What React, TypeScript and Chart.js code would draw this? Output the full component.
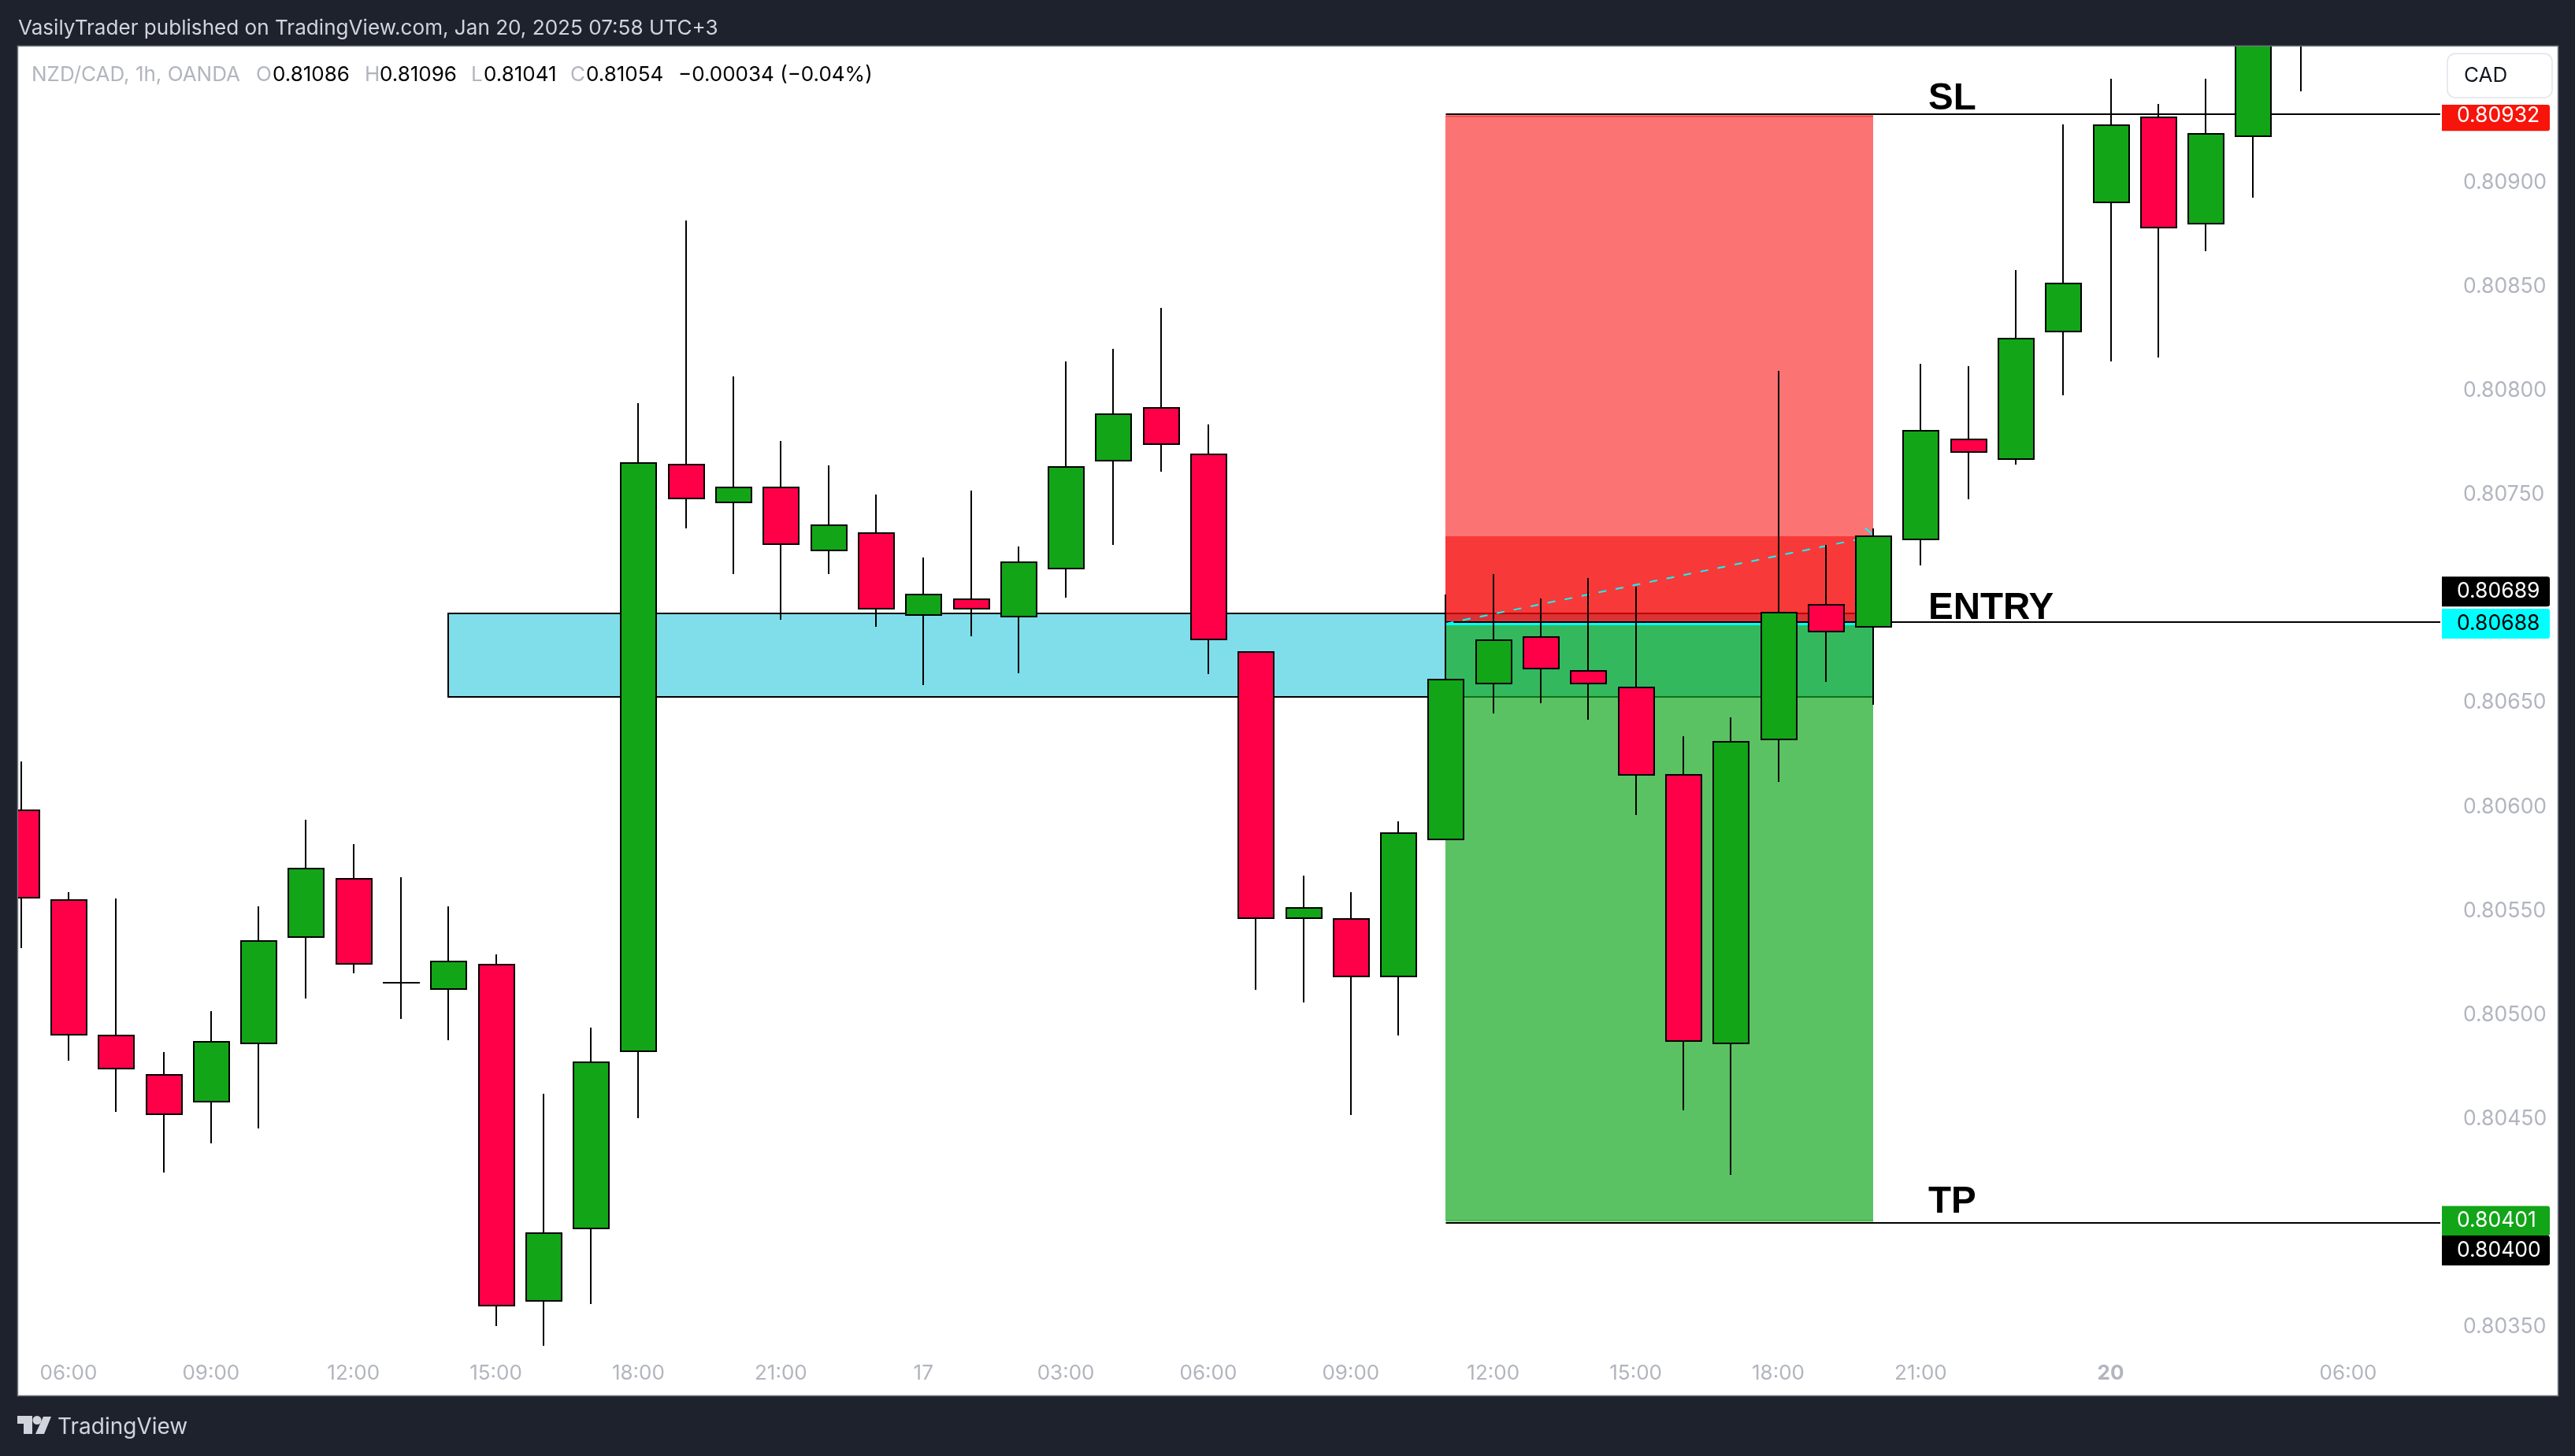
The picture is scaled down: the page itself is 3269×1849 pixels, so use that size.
import React, { useEffect, useRef } from "react";
import Chart from "chart.js/auto";

// NZD/CAD 1h candles, left to right
const opens = [
  0.805986, 0.805556, 0.804906, 0.804717, 0.80458, 0.804859, 0.80537, 0.805659, 0.80516, 0.805121,
  0.805246, 0.803622, 0.803969, 0.804822, 0.807648, 0.807459, 0.807538, 0.807228, 0.807319, 0.806917,
  0.807001, 0.80691, 0.807141, 0.807659, 0.807919, 0.807697, 0.806747, 0.805459, 0.805465, 0.80518,
  0.805839, 0.806588, 0.806818, 0.806658, 0.806579, 0.806157, 0.804859, 0.80632, 0.806975, 0.806861,
  0.807281, 0.807769, 0.807667, 0.80828, 0.8089, 0.809318, 0.808798, 0.809218, 0.80985,
];
const highs = [
  0.806217, 0.805589, 0.805559, 0.804822, 0.805019, 0.805521, 0.805937, 0.805821, 0.805661, 0.805521,
  0.80529, 0.80462, 0.804938, 0.807939, 0.808817, 0.808068, 0.807758, 0.80764, 0.8075, 0.807197,
  0.807519, 0.80725, 0.80814, 0.8082, 0.808397, 0.807837, 0.806747, 0.805669, 0.805589, 0.80593,
  0.80702, 0.807118, 0.807001, 0.807099, 0.807057, 0.806338, 0.806429, 0.808094, 0.807259, 0.807339,
  0.808128, 0.808117, 0.808579, 0.809279, 0.809498, 0.809377, 0.809498, 0.81, 0.8102,
];
const lows = [
  0.805322, 0.804781, 0.804533, 0.804242, 0.804382, 0.804454, 0.80508, 0.805201, 0.804982, 0.804879,
  0.803504, 0.803409, 0.803611, 0.804503, 0.807339, 0.80712, 0.8069, 0.80712, 0.806863, 0.806583,
  0.806821, 0.806641, 0.807004, 0.80726, 0.807611, 0.806639, 0.805122, 0.805061, 0.804519, 0.804902,
  0.805839, 0.806449, 0.806499, 0.80642, 0.805962, 0.804542, 0.804232, 0.806121, 0.806601, 0.80649,
  0.80716, 0.807478, 0.807644, 0.807978, 0.808141, 0.80816, 0.808671, 0.808928, 0.809439,
];
const closes = [
  0.80556, 0.804902, 0.804738, 0.804518, 0.804875, 0.805358, 0.805708, 0.805242, 0.805149, 0.805259,
  0.803599, 0.803956, 0.804777, 0.807657, 0.807478, 0.807538, 0.807258, 0.807358, 0.806948, 0.807025,
  0.806948, 0.807179, 0.807638, 0.80789, 0.807739, 0.8068, 0.805459, 0.805517, 0.80518, 0.805877,
  0.806615, 0.806805, 0.80666, 0.806588, 0.806149, 0.80487, 0.806317, 0.806938, 0.806838, 0.807305,
  0.807811, 0.807701, 0.808255, 0.808518, 0.809279, 0.808779, 0.809237, 0.809801, 0.80995,
];

const priceTicks = [0.8035, 0.804, 0.8045, 0.805, 0.8055, 0.806, 0.8065, 0.807, 0.8075, 0.808, 0.8085, 0.809];
const timeTicks = [1, 4, 7, 10, 13, 16, 19, 22, 25, 28, 31, 34, 37, 40, 44, 49];
const timeLabels = ["06:00", "09:00", "12:00", "15:00", "18:00", "21:00", "17", "03:00", "06:00", "09:00", "12:00", "15:00", "18:00", "21:00", "20", "06:00"];

// zones: demand box, stop area, running loss, target area
const zoneStart = [9, 30, 30, 30];
const zoneEnd = [39, 39, 39, 39];
const zoneTop = [0.806931, 0.80932, 0.8073, 0.80688];
const zoneBottom = [0.806528, 0.80688, 0.80688, 0.80401];

// SL, ENTRY and TP lines
const levelPrices = [0.809329, 0.806888, 0.804];
const levelFrom = 30;
const entryPrice = 0.806878;
const trailFrom = [30, 38.83];
const trailTo = [39, 38.98];
const trailPrices = [0.80688, 0.80734];
const trailEnds = [0.8073, 0.80731];

const tagPrices = [0.80932, 0.80689, 0.80688, 0.80401, 0.804];
const tagTexts = ["0.80932", "0.80689", "0.80688", "0.80401", "0.80400"];

const noteTexts = ["SL", "ENTRY", "TP"];
const notePrices = [0.80935, 0.806902, 0.804049];
const noteX = 40.16;

const X_MIN = -0.06;
const X_MAX = 50.94;
const GREEN = "#12a518";
const RED = "#ff0048";
const TICK_FONT = "Inter";

const tagStyles = [
  { bg: "#f7140a", fg: "#ffffff", shift: 0, top: 133 },
  { bg: "#000000", fg: "#ffffff", shift: -38 },
  { bg: "#00ffff", fg: "#000000", shift: 0 },
  { bg: "#12a518", fg: "#ffffff", shift: 0 },
  { bg: "#000000", fg: "#ffffff", shift: 35 },
];
const zoneStyles = ["rgb(128,222,234)", "rgba(250,0,0,0.55)", "rgba(244,0,0,0.5)", "rgba(18,166,30,0.69)"];

const line = (points: { x: number; y: number }[], color: string, width: number, order: number, dash: number[] = []) => ({
  type: "line",
  order,
  data: points,
  borderColor: color,
  borderWidth: width,
  borderDash: dash,
  pointRadius: 0,
});

const drawFrame = {
  id: "frame",
  beforeDraw(chart: any) {
    const ctx = chart.ctx;
    ctx.save();
    ctx.fillStyle = "#1e222d";
    ctx.fillRect(0, 0, 3269, 1849);
    ctx.fillStyle = "#ffffff";
    ctx.fillRect(23, 59, 3224, 1713);
    ctx.strokeStyle = "#787b86";
    ctx.lineWidth = 1.5;
    ctx.strokeRect(22.5, 58.5, 3225, 1714);
    ctx.restore();
  },
};

// keep candles on whole pixels so wicks and borders stay crisp
const snapCandles = {
  id: "snap",
  afterDatasetsUpdate(chart: any) {
    chart.data.datasets.forEach((ds: any, d: number) => {
      if (ds.type !== "bar") return;
      const extra = ds.barThickness % 2 === 1 ? 0.5 : 0;
      chart.getDatasetMeta(d).data.forEach((el: any) => {
        el.x = Math.round(el.x) + extra;
        el.y = Math.round(el.y);
        el.base = Math.round(el.base);
      });
    });
  },
};

const drawZones = {
  id: "zones",
  beforeDatasetsDraw(chart: any) {
    const { ctx, chartArea, scales } = chart;
    ctx.save();
    ctx.beginPath();
    ctx.rect(chartArea.left, chartArea.top, chartArea.width, chartArea.height);
    ctx.clip();
    zoneStart.forEach((start, i) => {
      const x1 = Math.round(scales.x.getPixelForValue(start));
      const x2 = Math.round(scales.x.getPixelForValue(zoneEnd[i]));
      const y1 = Math.round(scales.y.getPixelForValue(zoneTop[i]));
      const y2 = Math.round(scales.y.getPixelForValue(zoneBottom[i]));
      ctx.fillStyle = zoneStyles[i];
      ctx.fillRect(x1, y1, x2 - x1, y2 - y1);
      if (i === 0) {
        ctx.strokeStyle = "#000000";
        ctx.lineWidth = 2;
        ctx.strokeRect(x1, y1, x2 - x1, y2 - y1);
      }
    });
    ctx.restore();
  },
};

const drawTexts = {
  id: "texts",
  afterDraw(chart: any) {
    const { ctx, scales } = chart;
    ctx.save();
    ctx.textBaseline = "middle";
    ctx.textAlign = "left";

    // page header and footer
    ctx.font = '26.1px "Inter"';
    ctx.fillStyle = "#d1d4dc";
    ctx.fillText("VasilyTrader published on TradingView.com, Jan 20, 2025 07:58 UTC+3", 23, 36);
    ctx.font = '28px "Inter"';
    ctx.fillText("TradingView", 73, 1813);
    ctx.beginPath();
    ctx.moveTo(22, 1798);
    ctx.lineTo(41, 1798);
    ctx.lineTo(41, 1821);
    ctx.lineTo(30, 1821);
    ctx.lineTo(30, 1808);
    ctx.lineTo(22, 1808);
    ctx.closePath();
    ctx.moveTo(55, 1799);
    ctx.lineTo(65, 1799);
    ctx.lineTo(56, 1821);
    ctx.lineTo(45, 1821);
    ctx.closePath();
    ctx.fill();
    ctx.beginPath();
    ctx.arc(47, 1803.5, 5.5, 0, Math.PI * 2);
    ctx.fill();

    // symbol legend
    ctx.font = '26px "Inter"';
    const grey = "#b2b5be";
    const parts: [string, number, string][] = [
      ["NZD/CAD, 1h, OANDA", 40, grey],
      ["O", 325, grey],
      ["0.81086", 346, "#000000"],
      ["H", 463, grey],
      ["0.81096", 482, "#000000"],
      ["L", 598, grey],
      ["0.81041", 614, "#000000"],
      ["C", 724, grey],
      ["0.81054", 744, "#000000"],
      ["\u22120.00034 (\u22120.04%)", 861, "#000000"],
    ];
    parts.forEach(([text, x, color]) => {
      ctx.fillStyle = color;
      ctx.fillText(text, x, 95);
    });

    // chart notes
    ctx.fillStyle = "#000000";
    ctx.font = 'bold 47.5px "Liberation Sans"';
    ctx.textBaseline = "alphabetic";
    noteTexts.forEach((text, i) => {
      ctx.fillText(text, scales.x.getPixelForValue(noteX), scales.y.getPixelForValue(notePrices[i]));
    });
    ctx.textBaseline = "middle";

    // currency button
    ctx.fillStyle = "#ffffff";
    ctx.strokeStyle = "#e0e3eb";
    ctx.lineWidth = 1.5;
    ctx.beginPath();
    ctx.roundRect(3107, 68, 133, 56, 10);
    ctx.fill();
    ctx.stroke();
    ctx.fillStyle = "#131722";
    ctx.font = `26px "${TICK_FONT}"`;
    ctx.fillText("CAD", 3128, 96);

    // price tags
    ctx.font = `26.5px "${TICK_FONT}"`;
    tagTexts.forEach((text, i) => {
      const style = tagStyles[i];
      const mid = scales.y.getPixelForValue(tagPrices[i]) + style.shift;
      const top = style.top ?? mid - 19;
      const bottom = mid + 19;
      ctx.fillStyle = style.bg;
      ctx.beginPath();
      ctx.roundRect(3100, top, 137, bottom - top, [0, 3, 3, 0]);
      ctx.fill();
      ctx.fillStyle = style.fg;
      ctx.fillText(text, 3119, mid);
    });
    ctx.restore();
  },
};

const App = () => {
  const chartRef = useRef<HTMLCanvasElement | null>(null);

  useEffect(() => {
    if (!chartRef.current) return;
    const candleColors = opens.map((o, i) => (closes[i] >= o ? GREEN : RED));

    const chart = new Chart(chartRef.current, {
      type: "bar",
      data: {
        datasets: [
          ...levelPrices.map((price) =>
            line([{ x: levelFrom, y: price }, { x: X_MAX, y: price }], "#000000", 2, 5)
          ),
          line([{ x: 30, y: entryPrice }, { x: 39, y: entryPrice }], "#00ffff", 3, 6),
          line([{ x: 30, y: zoneTop[1] }, { x: 39, y: zoneTop[1] }], "rgba(250,30,20,0.7)", 2, 6),
          line([{ x: 30, y: zoneBottom[3] }, { x: 39, y: zoneBottom[3] }], "rgba(18,166,30,0.7)", 2, 6),
          line([{ x: trailFrom[0], y: trailPrices[0] }, { x: trailTo[0], y: trailEnds[0] }], "#00ffff", 2, 4, [10, 12]),
          line([{ x: trailFrom[1], y: trailPrices[1] }, { x: trailTo[1], y: trailEnds[1] }], "#00ffff", 2, 4),
          {
            type: "bar",
            order: 2,
            data: opens.map((_, i) => ({ x: i, y: [lows[i], highs[i]] })),
            backgroundColor: "#000000",
            barThickness: 2,
            borderWidth: 0,
            inflateAmount: 0,
            grouped: false,
          },
          {
            type: "bar",
            order: 1,
            data: opens.map((o, i) => ({ x: i, y: [o, closes[i]] })),
            backgroundColor: candleColors,
            borderColor: "#000000",
            borderWidth: 2,
            borderSkipped: false,
            barThickness: 47,
            inflateAmount: 0,
            grouped: false,
          },
        ],
      } as any,
      options: {
        animation: false,
        responsive: false,
        devicePixelRatio: 1,
        layout: { padding: { left: 23, top: 59, right: 22, bottom: 77 } },
        plugins: { legend: { display: false }, tooltip: { enabled: false } },
        scales: {
          x: {
            type: "linear",
            offset: false,
            min: X_MIN,
            max: X_MAX,
            grid: { display: false },
            border: { display: false },
            afterFit: (scale: any) => {
              scale.height = 57;
            },
            afterBuildTicks: (scale: any) => {
              scale.ticks = timeTicks.map((value) => ({ value }));
            },
            ticks: {
              autoSkip: false,
              maxRotation: 0,
              padding: 6,
              color: "#b2b5be",
              font: (ctx: any) => ({
                family: TICK_FONT,
                size: 26,
                weight: ctx.tick && ctx.tick.value === 44 ? "bold" : "normal",
              }),
              callback: (value: any) => timeLabels[timeTicks.indexOf(value)],
            },
          },
          y: {
            type: "linear",
            position: "right",
            min: 0.803387,
            max: 0.809654,
            grid: { display: false },
            border: { display: false },
            afterFit: (scale: any) => {
              scale.width = 149;
            },
            afterBuildTicks: (scale: any) => {
              scale.ticks = priceTicks.map((value) => ({ value }));
            },
            ticks: {
              autoSkip: false,
              padding: 21,
              color: "#b2b5be",
              font: { family: TICK_FONT, size: 26.5 },
              callback: (value: any) => Number(value).toFixed(5),
            },
          },
        },
      },
      plugins: [drawFrame, snapCandles, drawZones, drawTexts],
    } as any);

    return () => {
      chart.destroy();
    };
  }, []);

  return (
    <div style={{ position: "fixed", left: 0, top: 0 }}>
      <canvas ref={chartRef} width={3269} height={1849} style={{ display: "block" }} />
    </div>
  );
};

export default App;
